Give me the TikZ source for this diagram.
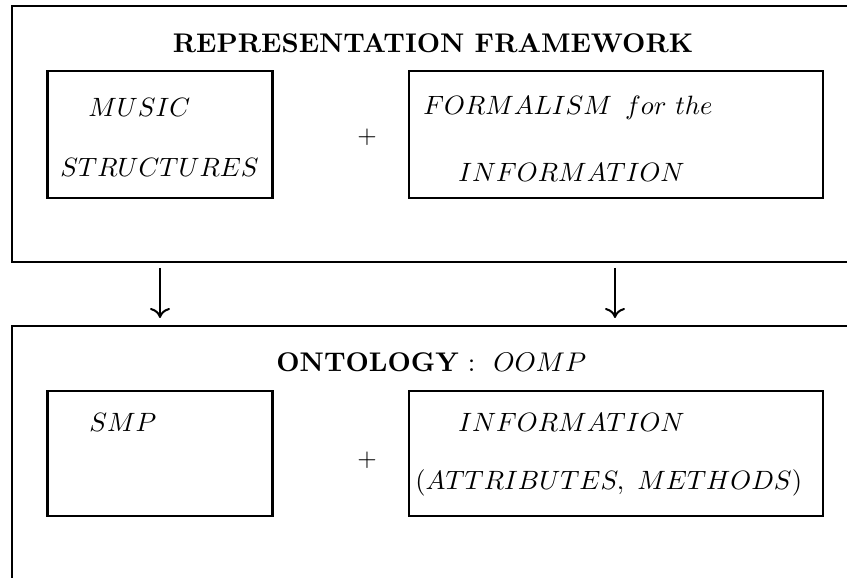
\RequirePackage{fix-cm}
\documentclass[tikz,border=0pt]{standalone}
\usepackage{amsmath, amssymb}
\usepackage{tikz}
\usetikzlibrary{arrows.meta}

\begin{document}
\begin{tikzpicture}[x=0.4pt, y=-0.4pt, line width=1.1pt,
    box/.style={draw, inner sep=0pt},
    head/.style={inner sep=0pt, font=\fontsize{10.8}{13}\selectfont\bfseries},
    lbl/.style={anchor=west, inner sep=0pt, font=\fontsize{10.6}{13}\selectfont}]
    \useasboundingbox (0,0) rectangle (847,578);

    % outer frames, cut off by the page
    \draw (847,6) -- (12,6) -- (12,262) -- (847,262);
    \draw (847,326) -- (12,326) -- (12,578);

    \node[head] (frame) at (433,43) {REPRESENTATION FRAMEWORK};
    \node[box, minimum width=90pt, minimum height=50.8pt] (music) at (160,134.5) {};
    \node[box, minimum width=165.6pt, minimum height=50.8pt] (formal) at (616,134.5) {};
    \node[inner sep=0pt] (plus1) at (367,137) {$+$};
    \node[lbl] (musica) at (87,107) {$MUSIC$};
    \node[lbl] (musicb) at (59,167) {$STRUCTURES$};
    \node[lbl] (formala) at (422,108) {$FORMALISM\,\ for\ the$};
    \node[lbl] (formalb) at (457,172) {$INFORMATION$};

    \node[head, anchor=west] (onto) at (275,362) {ONTOLOGY\mdseries\ : \ $OOMP$};
    \node[box, minimum width=90pt, minimum height=50pt] (smp) at (160,453.5) {};
    \node[box, minimum width=165.6pt, minimum height=50pt] (info) at (616,453.5) {};
    \node[inner sep=0pt] (plus2) at (367,460) {$+$};
    \node[lbl] (smpa) at (88,422) {$SMP$};
    \node[lbl] (infoa) at (457,422) {$INFORMATION$};
    \node[lbl] (infob) at (414,483) {$(ATTRIBUTES,\ METHODS)$};

    \coordinate (a1) at (160,268);
    \coordinate (b1) at (160,318);
    \coordinate (a2) at (615,268);
    \coordinate (b2) at (615,318);
    \draw[-{To[length=4pt, width=8pt]}, line width=0.8pt] (a1) -- (b1);
    \draw[-{To[length=4pt, width=8pt]}, line width=0.8pt] (a2) -- (b2);
\end{tikzpicture}
\end{document}
